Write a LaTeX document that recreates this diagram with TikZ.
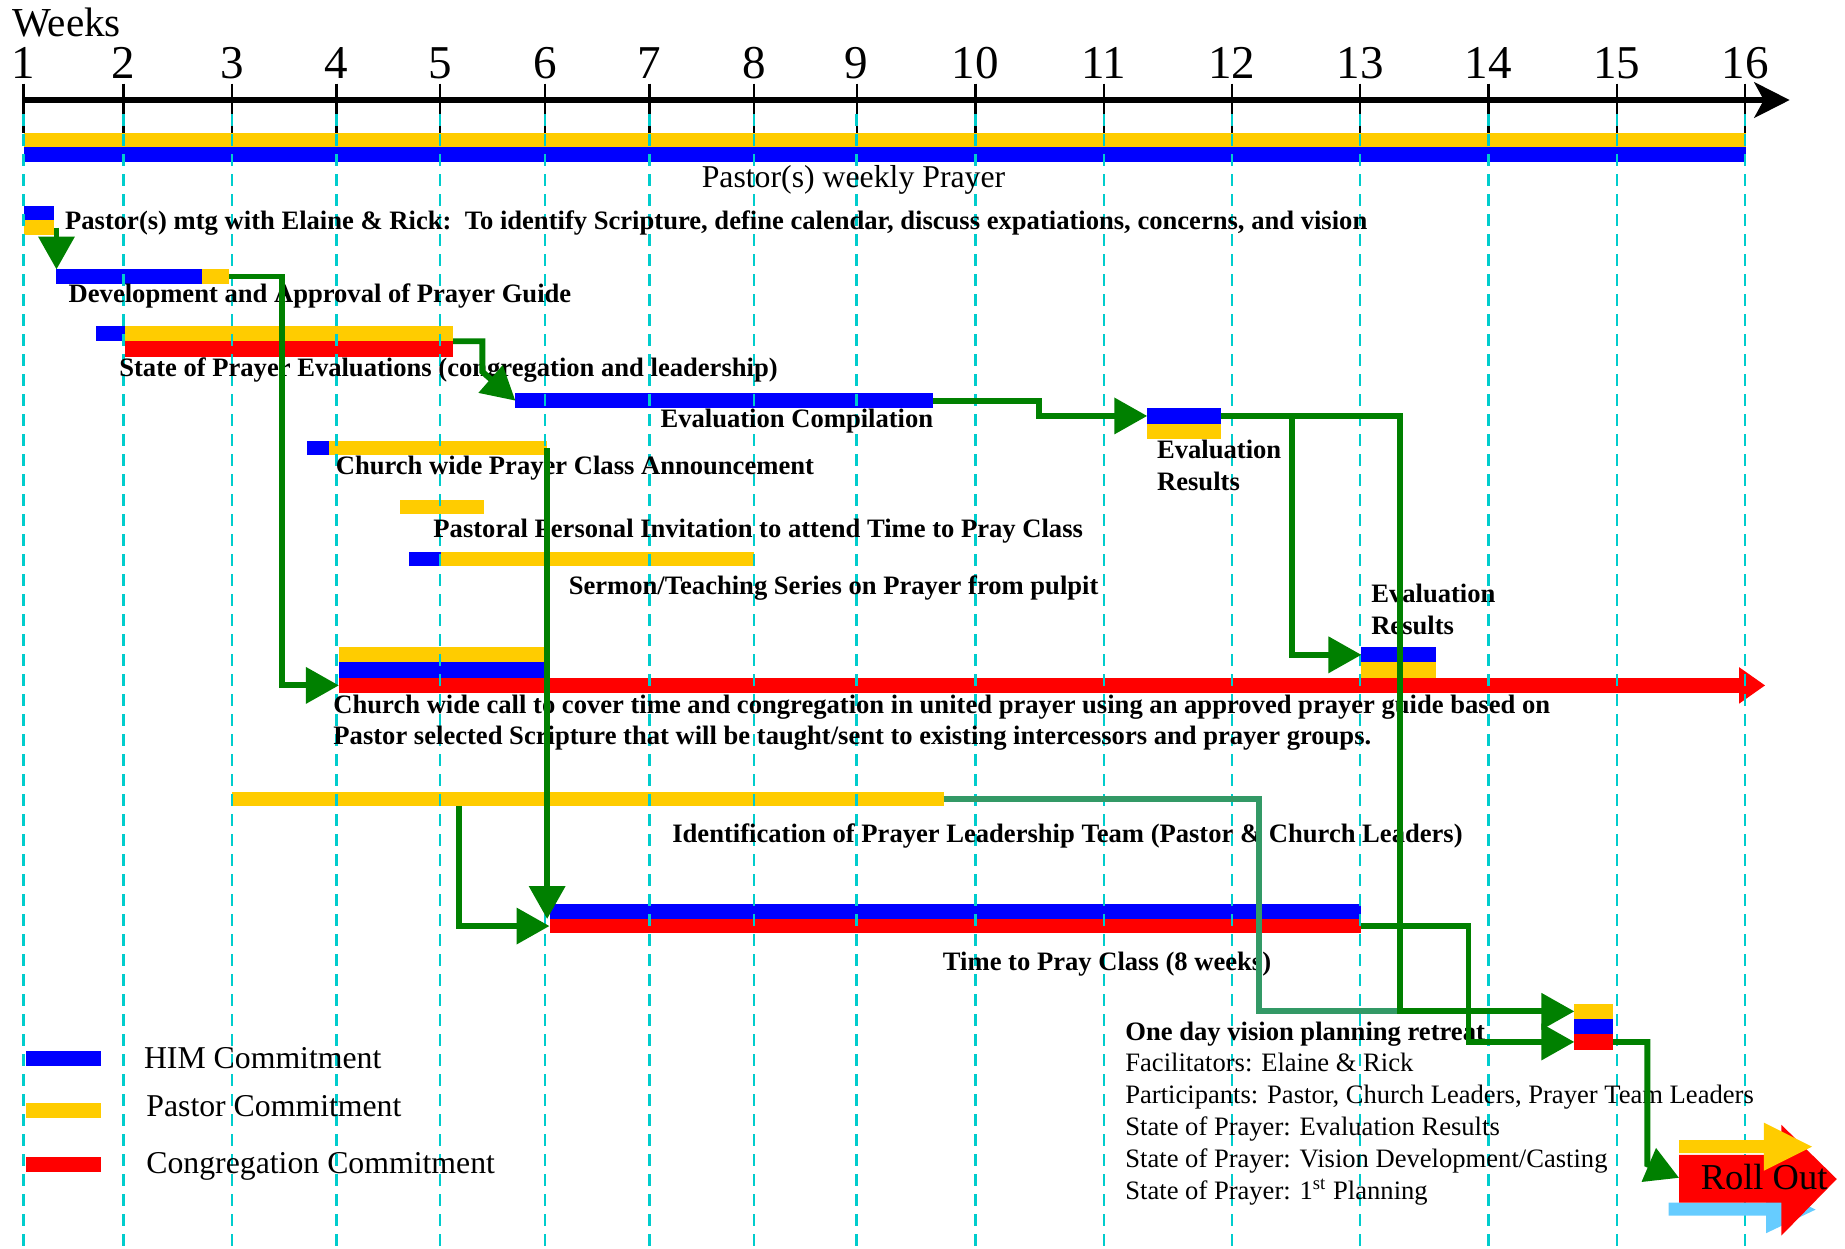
\documentclass[tikz,border=0pt]{standalone}
\usepackage{fontspec}
\setmainfont{Liberation Serif}
\usetikzlibrary{arrows.meta,fit}
\definecolor{hblue}{RGB}{0,0,255}
\definecolor{pyel}{RGB}{255,204,0}
\definecolor{cred}{RGB}{255,0,0}
\definecolor{dgreen}{RGB}{0,128,0}
\definecolor{sgreen}{RGB}{51,153,102}
\definecolor{gridc}{RGB}{0,204,204}
\definecolor{rblue}{RGB}{102,204,255}
\newcommand\gbar[6]{\node[bar=#2,fit={(#3,#4) (#5,#6)}] (#1) {};}
\begin{document}
\begin{tikzpicture}[x=0.5pt,y=-0.5pt,
  bar/.style={inner sep=0pt,outer sep=0pt,fill=#1},
  conn/.style={draw=dgreen,line width=2.5pt,line join=miter,-{Triangle[length=14pt,width=15pt]}},
  lconn/.style={draw=sgreen,line width=2.5pt,line join=miter},
  bl/.style={anchor=base west,inner sep=0pt,font=\fontsize{11.3}{13.5}\selectfont\bfseries},
  rl/.style={anchor=base west,inner sep=0pt,font=\fontsize{11.3}{13.5}\selectfont},
  lg/.style={anchor=base west,inner sep=0pt,font=\fontsize{13.5}{16}\selectfont},
  gridline/.style={draw=gridc,line width=1pt,dash pattern=on 5pt off 3.5pt}]
\useasboundingbox (0,0) rectangle (1568,1061);
% axis
\node[anchor=base west,inner sep=0pt,font=\fontsize{17.5}{20}\selectfont] (weeks) at (10,31) {Weeks};
\foreach \x [count=\i] in {20,105,197,286,374,463,552,641,728,829,938,1047,1156,1265,1374,1483}{
  \draw[black,line width=0.9pt] (\x,71) -- (\x,113);
  \node[anchor=base,inner sep=0pt,font=\fontsize{20}{22}\selectfont] (wk\i) at (\x,67) {\i};
}
\coordinate (axs) at (20,85);
\coordinate (axe) at (1521,85);
\draw[line width=2.8pt,-{Stealth[length=15pt,width=15pt,inset=4pt]}] (axs) -- (axe);
% bars
\gbar{pwY}{pyel}{20}{113}{1484}{125}
\gbar{pwB}{hblue}{20}{125}{1484}{138}
\gbar{mtgB}{hblue}{20}{175}{46}{187}
\gbar{mtgY}{pyel}{20}{187}{46}{200}
\gbar{devB}{hblue}{48}{229}{172}{241}
\gbar{devY}{pyel}{172}{229}{195}{241}
\gbar{sopB}{hblue}{82}{277}{106}{290}
\gbar{sopY}{pyel}{106}{277}{385}{290}
\gbar{sopR}{cred}{106}{290}{385}{303}
\gbar{ecB}{hblue}{438}{334}{793}{347}
\gbar{erAB}{hblue}{975}{347}{1038}{360}
\gbar{erAY}{pyel}{975}{360}{1038}{373}
\gbar{annB}{hblue}{261}{375}{280}{387}
\gbar{annY}{pyel}{280}{375}{465}{387}
\gbar{ppiY}{pyel}{340}{425}{411}{437}
\gbar{serB}{hblue}{348}{469}{375}{481}
\gbar{serY}{pyel}{375}{469}{641}{481}
\gbar{erBB}{hblue}{1157}{550}{1220}{563}
\gbar{erBY}{pyel}{1157}{563}{1220}{576}
\gbar{cwY}{pyel}{288}{550}{463}{563}
\gbar{cwB}{hblue}{288}{563}{463}{576}
\gbar{cwR}{cred}{288}{576}{1479}{589}
\fill[cred] (1478,567) -- (1500,582.5) -- (1478,598) -- cycle;
\gbar{idY}{pyel}{197}{673}{802}{685}
\gbar{tpB}{hblue}{467}{768}{1157}{781}
\gbar{tpR}{cred}{467}{781}{1157}{793}
\gbar{rtY}{pyel}{1338}{853}{1371}{866}
\gbar{rtB}{hblue}{1338}{866}{1371}{879}
\gbar{rtR}{cred}{1338}{879}{1371}{892}
\gbar{lgB}{hblue}{22}{893}{86}{906}
\gbar{lgY}{pyel}{22}{937}{86}{950}
\gbar{lgR}{cred}{22}{983}{86}{996}
% grid
\foreach \x in {20,105,197,286,374,463,552,641,728,829,938,1047,1156,1265,1374,1483}{
  \draw[gridline] (\x,97) -- (\x,1061);
}
% texts
\node[lg] (pwT) at (596,159) {Pastor(s) weekly Prayer};
\node[bl] (mtgT) at (55,195) {Pastor(s) mtg with Elaine \& Rick:\ \ To identify Scripture, define calendar, discuss expatiations, concerns, and vision};
\node[bl] (devT) at (58,257) {Development and Approval of Prayer Guide};
\node[bl] (sopT) at (101,320) {State of Prayer Evaluations (congregation and leadership)};
\node[bl] (ecT) at (561,363) {Evaluation Compilation};
\node[bl] (erAT1) at (983,390) {Evaluation};
\node[bl] (erAT2) at (983,417) {Results};
\node[bl] (annT) at (285,403) {Church wide Prayer Class Announcement};
\node[bl] (ppiT) at (368,457) {Pastoral Personal Invitation to attend Time to Pray Class};
\node[bl] (serT) at (483,505) {Sermon/Teaching Series on Prayer from pulpit};
\node[bl] (erBT1) at (1165,512) {Evaluation};
\node[bl] (erBT2) at (1165,539) {Results};
\node[bl] (cwT1) at (283,606) {Church wide call to cover time and congregation in united prayer using an approved prayer guide based on};
\node[bl] (cwT2) at (283,633) {Pastor selected Scripture that will be taught/sent to existing intercessors and prayer groups.};
\node[bl] (idT) at (571,716) {Identification of Prayer Leadership Team (Pastor \& Church Leaders)};
\node[bl] (tpT) at (801,825) {Time to Pray Class (8 weeks)};
\node[bl] (rtT0) at (956,884) {One day vision planning retreat};
\node[rl] (rtT1) at (956,911) {Facilitators: Elaine \& Rick};
\node[rl] (rtT2) at (956,938) {Participants: Pastor, Church Leaders, Prayer Team Leaders};
\node[rl] (rtT3) at (956,965) {State of Prayer: Evaluation Results};
\node[rl] (rtT4) at (956,992) {State of Prayer: Vision Development/Casting};
\node[rl] (rtT5) at (956,1019) {State of Prayer: 1\textsuperscript{st} Planning};
\node[lg] (lgBT) at (122,908) {HIM Commitment};
\node[lg] (lgYT) at (124,949) {Pastor Commitment};
\node[lg] (lgRT) at (124,997) {Congregation Commitment};
% connectors
\coordinate (merge) at (1190,859.5);
\coordinate (rollin) at (1427,1001);
\draw[lconn] (idY.east) -- ++(268,0) |- (merge);
\draw[conn] (devB.north west |- mtgY.east) -- (devB.north west);
\draw[conn] (devY.east) -- ++(45,0) |- (cwR.west);
\draw[conn] (sopY.south east) -- ++(25,0) -- ++(0,26) -- (ecB.west);
\draw[conn] (ecB.east) -- ++(90,0) |- (erAB.west);
\draw[conn] (erAB.east) -- ++(152,0) |- (rtY.west);
\draw[conn] ([xshift=30pt]erAB.east) |- (erBB.west);
\draw[conn] (annY.east) -- (annY.east |- tpB.south west);
\draw[conn] ([xshift=96.5pt]idY.south west) |- (tpR.west);
\draw[conn] (tpR.east) -- ++(91,0) |- (rtR.west);
% roll out
\fill[rblue] (1418,1022) -- (1501,1022) -- (1501,1007) -- (1543,1028) -- (1501,1048) -- (1501,1033) -- (1418,1033) -- cycle;
\fill[cred] (1427,981.5) -- (1514,981.5) -- (1514,956) -- (1561,1002) -- (1514,1050) -- (1514,1022) -- (1427,1022) -- cycle;
\fill[pyel] (1427,969) -- (1499,969) -- (1499,954) -- (1540,974.5) -- (1499,995) -- (1499,980) -- (1427,980) -- cycle;
\node[anchor=base west,inner sep=0pt,font=\fontsize{15.5}{18}\selectfont] (roll) at (1445,1011) {Roll Out};
\draw[conn] (rtR.east) -- ++(29,0) -- ++(0,104) -- (rollin);
\end{tikzpicture}
\end{document}
